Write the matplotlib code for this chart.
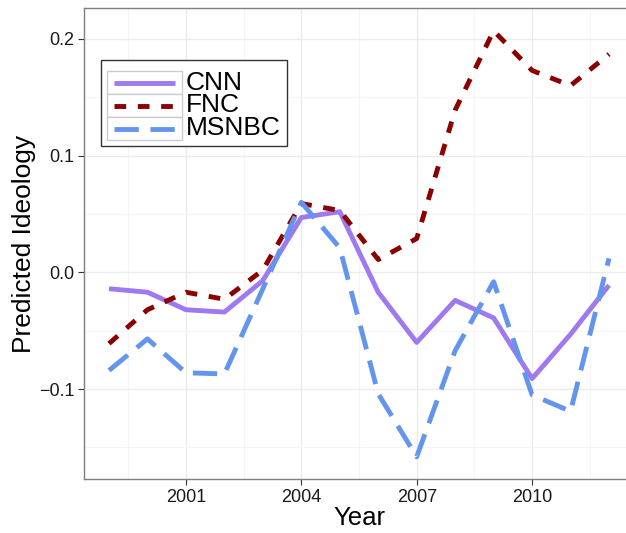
import matplotlib
matplotlib.use("Agg")
import matplotlib.pyplot as plt
from matplotlib.lines import Line2D
from matplotlib.patches import Rectangle
from matplotlib.ticker import FixedLocator

years = list(range(1999, 2013))
cnn = [-0.014, -0.017, -0.032, -0.034, -0.007, 0.047, 0.052, -0.017,
       -0.060, -0.024, -0.039, -0.091, -0.053, -0.011]
fnc = [-0.061, -0.032, -0.017, -0.023, 0.002, 0.059, 0.053, 0.011,
       0.029, 0.139, 0.207, 0.173, 0.160, 0.187]
msnbc = [-0.084, -0.057, -0.086, -0.087, -0.014, 0.060, 0.021, -0.104,
         -0.158, -0.067, -0.008, -0.105, -0.119, 0.012]
series_names = ["CNN", "FNC", "MSNBC"]
xticks = [2001, 2004, 2007, 2010]
yticks = [-0.1, 0.0, 0.1, 0.2]
ytick_labels = ['\u22120.1', '0.0', '0.1', '0.2']

colors = ['#9F79EE', '#8B0000', '#6495ED']
dash_styles = [None, (2.4, 2.4), (5.0, 2.4)]

plt.rcParams['font.family'] = ['Liberation Sans', 'DejaVu Sans']

W, H = 626, 533
fig = plt.figure(figsize=(W/100, H/100), dpi=100)
ax = fig.add_axes([84/W, 1-479/H, (634-84)/W, (479-8)/H])

lw = 3.5
for vals, name, c, d in zip([cnn, fnc, msnbc], series_names, colors, dash_styles):
    kw = dict(color=c, lw=lw, label=name, zorder=3,
              solid_capstyle='butt', dash_capstyle='butt')
    if d is not None:
        kw['dashes'] = d
    ax.plot(years, vals, **kw)

ax.set_xlim(1998.35, 2012.65)
ax.set_ylim(-0.177, 0.2265)
ax.xaxis.set_major_locator(FixedLocator(xticks))
ax.yaxis.set_major_locator(FixedLocator(yticks))
ax.xaxis.set_minor_locator(FixedLocator([1999.5, 2002.5, 2005.5, 2008.5, 2011.5]))
ax.yaxis.set_minor_locator(FixedLocator([-0.15, -0.05, 0.05, 0.15]))
ax.set_yticklabels(ytick_labels)
ax.grid(which='major', color='#EBEBEB', lw=1.0, zorder=0)
ax.grid(which='minor', color='#F5F5F5', lw=0.8, zorder=0)
ax.set_axisbelow(True)
for s in ax.spines.values():
    s.set_color('#7F7F7F')
    s.set_linewidth(1.0)
ax.tick_params(which='major', length=4, width=0.8, color='#333333',
               labelsize=13, labelcolor='#1A1A1A', pad=3)
ax.tick_params(which='minor', length=0)
ax.set_xlabel('Year', fontsize=18.5, labelpad=0)
ax.set_ylabel('Predicted Ideology', fontsize=19, labelpad=2)

# ---- manual legend (ggplot style with boxed keys) ----
def fx(px):
    return px / W

def fy(py):
    return 1 - py / H

box_l, box_t, box_r, box_b = 100.7, 60, 287.3, 146
fig.patches.append(Rectangle((fx(box_l), fy(box_b)), fx(box_r) - fx(box_l),
                             fy(box_t) - fy(box_b), transform=fig.transFigure,
                             facecolor='white', edgecolor='#333333', lw=1.0,
                             zorder=5))
key_l, key_r = 106.7, 181.7
row_top, row_h = 71, 23
for i, (name, c, d) in enumerate(zip(series_names, colors, dash_styles)):
    t = row_top + i * row_h
    fig.patches.append(Rectangle((fx(key_l), fy(t + row_h)), fx(key_r) - fx(key_l),
                                 fy(t) - fy(t + row_h), transform=fig.transFigure,
                                 facecolor='white', edgecolor='#CCCCCC', lw=1.0,
                                 zorder=6))
    yc = t + row_h / 2
    kw = dict(color=c, lw=lw, transform=fig.transFigure, zorder=7,
              solid_capstyle='butt', dash_capstyle='butt')
    if d is not None:
        kw['dashes'] = d
    fig.lines.append(Line2D([fx(114), fx(175)], [fy(yc), fy(yc)], **kw))

fig.text(fx(186), fy(row_top + 1.5 * row_h), "\n".join(series_names),
         fontsize=19, ha='left', va='center', linespacing=0.94,
         color='black', zorder=8)

fig.savefig('out.png', dpi=100)
